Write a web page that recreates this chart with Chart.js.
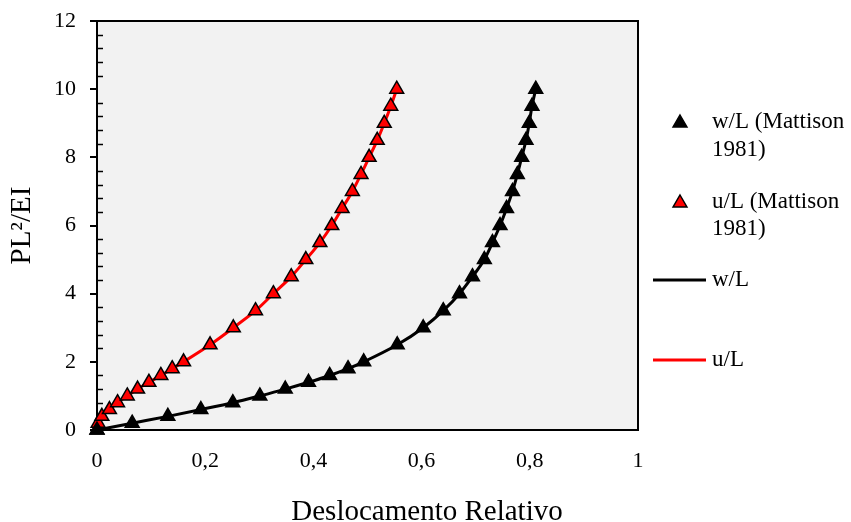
<!DOCTYPE html>
<html>
<head>
<meta charset="utf-8">
<title>PL²/EI x Deslocamento Relativo</title>
<script src="https://cdn.jsdelivr.net/npm/chart.js"></script>
<style>
  html, body { margin: 0; padding: 0; background: #fff; }
  #chart { display: block; }
</style>
</head>
<body>
<canvas id="chart" width="851" height="522"></canvas>
<script>
// load levels PL²/EI (same for both series)
const loadLevels = [0, 0.2, 0.4, 0.6, 0.8, 1.0, 1.2, 1.4, 1.6, 1.8, 2.0, 2.5, 3, 3.5, 4, 4.5, 5, 5.5, 6, 6.5, 7, 7.5, 8, 8.5, 9, 9.5, 10];
// w/L and u/L
const wL = [0, 0.065, 0.131, 0.192, 0.251, 0.301, 0.348, 0.391, 0.430, 0.464, 0.493, 0.555, 0.603, 0.640, 0.670, 0.694, 0.716, 0.731, 0.745, 0.757, 0.768, 0.777, 0.785, 0.793, 0.799, 0.804, 0.811];
const uL = [0, 0.002, 0.009, 0.023, 0.038, 0.056, 0.075, 0.096, 0.118, 0.139, 0.160, 0.209, 0.252, 0.293, 0.326, 0.359, 0.386, 0.412, 0.434, 0.453, 0.472, 0.488, 0.503, 0.518, 0.531, 0.543, 0.554];
const xTicks = [0, 0.2, 0.4, 0.6, 0.8, 1];
const yTicks = [0, 2, 4, 6, 8, 10, 12];

const FONT = "'Liberation Serif', 'Times New Roman', serif";

function pts(xs, ys) {
  return xs.map((x, i) => ({ x: x, y: ys[i] }));
}

// grey plot background + black frame
const frame = {
  id: 'frame',
  beforeDraw(chart) {
    const a = chart.chartArea, ctx = chart.ctx;
    ctx.save();
    ctx.fillStyle = '#f2f2f2';
    ctx.fillRect(a.left, a.top, a.right - a.left, a.bottom - a.top);
    ctx.restore();
  },
  beforeDatasetsDraw(chart) {
    const a = chart.chartArea, ctx = chart.ctx;
    const y = chart.scales.y;
    ctx.save();
    ctx.strokeStyle = '#000';
    ctx.lineWidth = 2;
    ctx.strokeRect(a.left, a.top, a.right - a.left, a.bottom - a.top);
    // minor ticks, pointing inside
    ctx.lineWidth = 1.5;
    for (let v = 0.4; v < 12; v += 0.4) {
      if (Math.abs(v / 2 - Math.round(v / 2)) < 0.01) continue;
      const py = Math.round(y.getPixelForValue(v)) + 0.5;
      ctx.beginPath();
      ctx.moveTo(a.left, py);
      ctx.lineTo(a.left + 6, py);
      ctx.stroke();
    }
    ctx.restore();
  }
};

function tri(ctx, x, y, r, fill) {
  ctx.beginPath();
  ctx.moveTo(x, y - r);
  ctx.lineTo(x + r * 0.866, y + r / 2);
  ctx.lineTo(x - r * 0.866, y + r / 2);
  ctx.closePath();
  ctx.fillStyle = fill;
  ctx.fill();
  ctx.strokeStyle = '#000';
  ctx.lineWidth = 1.5;
  ctx.stroke();
}

// legend on the right (wrapped labels) and the x title, centred on the page like the original
const sideLegend = {
  id: 'sideLegend',
  afterDraw(chart) {
    const ctx = chart.ctx;
    ctx.save();
    ctx.font = '23px ' + FONT;
    ctx.fillStyle = '#000';
    ctx.textBaseline = 'middle';
    ctx.textAlign = 'left';

    tri(ctx, 680, 123, 8, '#000');
    ctx.fillStyle = '#000';
    ctx.fillText('w/L (Mattison', 712, 122);
    ctx.fillText('1981)', 712, 150);

    tri(ctx, 680, 203, 8, '#ff0000');
    ctx.fillStyle = '#000';
    ctx.fillText('u/L (Mattison', 712, 202);
    ctx.fillText('1981)', 712, 229);

    ctx.lineWidth = 3;
    ctx.strokeStyle = '#000';
    ctx.beginPath(); ctx.moveTo(653, 280); ctx.lineTo(706, 280); ctx.stroke();
    ctx.fillText('w/L', 712, 280);

    ctx.strokeStyle = '#ff0000';
    ctx.beginPath(); ctx.moveTo(653, 360); ctx.lineTo(706, 360); ctx.stroke();
    ctx.fillText('u/L', 712, 360);

    ctx.font = '29px ' + FONT;
    ctx.textAlign = 'center';
    ctx.textBaseline = 'alphabetic';
    ctx.fillText('Deslocamento Relativo', 427, 520);
    ctx.restore();
  }
};

const ctx = document.getElementById('chart').getContext('2d');
new Chart(ctx, {
  type: 'scatter',
  data: {
    datasets: [
      {
        label: 'w/L (Mattison 1981)',
        data: pts(wL, loadLevels),
        pointStyle: 'triangle',
        pointRadius: 8,
        pointBackgroundColor: '#000',
        pointBorderColor: '#000',
        pointBorderWidth: 1.5,
        showLine: false,
        clip: false,
        order: 0
      },
      {
        label: 'u/L (Mattison 1981)',
        data: pts(uL, loadLevels),
        pointStyle: 'triangle',
        pointRadius: 8,
        pointBackgroundColor: '#ff0000',
        pointBorderColor: '#000',
        pointBorderWidth: 1.5,
        showLine: false,
        clip: false,
        order: 0
      },
      {
        label: 'w/L',
        data: pts(wL, loadLevels),
        showLine: true,
        borderColor: '#000',
        borderWidth: 3,
        pointRadius: 0,
        cubicInterpolationMode: 'monotone',
        order: 2
      },
      {
        label: 'u/L',
        data: pts(uL, loadLevels),
        showLine: true,
        borderColor: '#ff0000',
        borderWidth: 3,
        pointRadius: 0,
        cubicInterpolationMode: 'monotone',
        order: 1
      }
    ]
  },
  options: {
    responsive: false,
    animation: false,
    devicePixelRatio: 1,
    layout: { padding: { left: 0, right: 213, top: 21, bottom: 0 } },
    plugins: {
      legend: { display: false },
      tooltip: { enabled: false }
    },
    scales: {
      x: {
        type: 'linear',
        min: 0,
        max: 1,
        afterFit(scale) {
          scale.height = 92;
          scale.paddingLeft = 0;
          scale.paddingRight = 0;
        },
        afterBuildTicks(scale) { scale.ticks = xTicks.map(v => ({ value: v })); },
        grid: { display: false },
        border: { display: false },
        ticks: {
          color: '#000',
          font: { family: FONT, size: 22 },
          padding: 10,
          maxRotation: 0,
          callback: v => String(v).replace('.', ',')
        },
        title: { display: false }
      },
      y: {
        type: 'linear',
        min: 0,
        max: 12,
        afterFit(scale) {
          scale.width = 97;
          scale.paddingTop = 0;
          scale.paddingBottom = 0;
        },
        afterBuildTicks(scale) { scale.ticks = yTicks.map(v => ({ value: v })); },
        grid: {
          display: true,
          drawOnChartArea: false,
          drawTicks: true,
          tickLength: 7,
          color: '#000',
          lineWidth: 2
        },
        border: { display: false },
        ticks: {
          color: '#000',
          font: { family: FONT, size: 22 },
          padding: 14
        },
        title: {
          display: true,
          text: 'PL²/EI',
          color: '#000',
          font: { family: FONT, size: 29 },
          padding: { top: 5, bottom: 0 }
        }
      }
    }
  },
  plugins: [frame, sideLegend]
});
</script>
</body>
</html>
